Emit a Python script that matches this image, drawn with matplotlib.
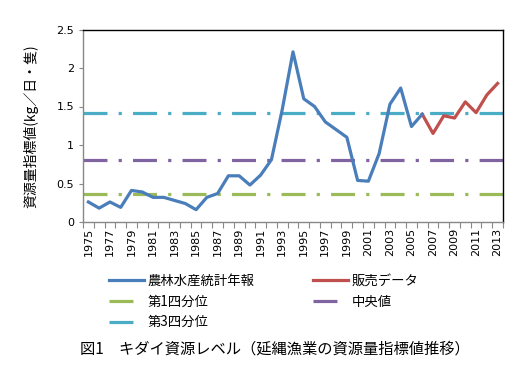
import matplotlib.pyplot as plt
from matplotlib.lines import Line2D

plt.rcParams['font.family'] = ['Noto Sans CJK JP', 'DejaVu Sans']

years = list(range(1975, 2014))
stat_years = list(range(1975, 2007))
stat_values = [0.26, 0.18, 0.26, 0.19, 0.41, 0.39, 0.32, 0.32, 0.28, 0.24,
               0.16, 0.32, 0.37, 0.60, 0.60, 0.48, 0.61, 0.81, 1.46, 2.21,
               1.60, 1.50, 1.30, 1.20, 1.10, 0.54, 0.53, 0.89, 1.53, 1.74,
               1.24, 1.40]
sales_years = list(range(2006, 2014))
sales_values = [1.40, 1.15, 1.38, 1.35, 1.56, 1.42, 1.65, 1.80]
q1 = 0.37
median = 0.81
q3 = 1.41

fig = plt.figure(figsize=(5.17, 3.85), dpi=100)
ax = fig.add_axes([83 / 517, 163 / 385, 420 / 517, 192.5 / 385])

x0 = years[0]
sx = [y - x0 for y in stat_years]
rx = [y - x0 for y in sales_years]
dash = (0, (7.5, 3.5, 1, 3.5))

ax.plot([-0.5, len(years) - 0.5], [q1, q1], color='#9bbb59', lw=2.3, ls=dash)
ax.plot([-0.5, len(years) - 0.5], [median, median], color='#8064a2', lw=2.3, ls=dash)
ax.plot([-0.5, len(years) - 0.5], [q3, q3], color='#4bacc6', lw=2.3, ls=dash)
ax.plot(rx, sales_values, color='#c0504d', lw=2.3)
ax.plot(sx, stat_values, color='#4a7ebb', lw=2.3)

ax.set_xlim(-0.5, len(years) - 0.5)
ax.set_ylim(0, 2.5)
ax.set_yticks([0, 0.5, 1, 1.5, 2, 2.5])
ax.set_yticklabels(['0', '0.5', '1', '1.5', '2', '2.5'], fontsize=8,
                   family=['DejaVu Sans'])
ax.set_xticks([i - 0.5 for i in range(len(years) + 1)])
ax.set_xticklabels([])
ax.set_xticks(range(0, len(years), 2), minor=True)
ax.set_xticklabels([str(y) for y in years[::2]], minor=True, rotation=90,
                   fontsize=8, family=['DejaVu Sans'])
ax.tick_params(axis='x', which='minor', length=0, pad=4)
ax.tick_params(axis='x', which='major', length=4, color='#888888')
ax.tick_params(axis='y', length=3, color='#888888')
for s in ax.spines.values():
    s.set_color('black')
    s.set_linewidth(1)
ax.spines['left'].set_color('#888888')
ax.spines['bottom'].set_color('#888888')

ax.set_ylabel('資源量指標値(kg／日・隻)', fontsize=10, labelpad=13)

# legend order: matplotlib fills columns first, reference reads row by row
handles = [
    Line2D([], [], color='#4a7ebb', lw=2.3),
    Line2D([], [], color='#9bbb59', lw=2.3, ls=dash),
    Line2D([], [], color='#4bacc6', lw=2.3, ls=dash),
    Line2D([], [], color='#c0504d', lw=2.3),
    Line2D([], [], color='#8064a2', lw=2.3, ls=dash),
]
labels = ['農林水産統計年報', '第1四分位', '第3四分位', '販売データ', '中央値']
fig.legend(handles, labels, loc='upper left', bbox_to_anchor=(97 / 517, 1 - 262 / 385),
           ncol=2, frameon=False, fontsize=9.6, handlelength=2.6, handletextpad=0.3,
           columnspacing=4.4, labelspacing=0.5)

fig.text(80 / 517, 1 - 349 / 385, '図1　キダイ資源レベル（延縄漁業の資源量指標値推移）',
         fontsize=11, va='center', ha='left')

fig.savefig('out.png', dpi=100)
